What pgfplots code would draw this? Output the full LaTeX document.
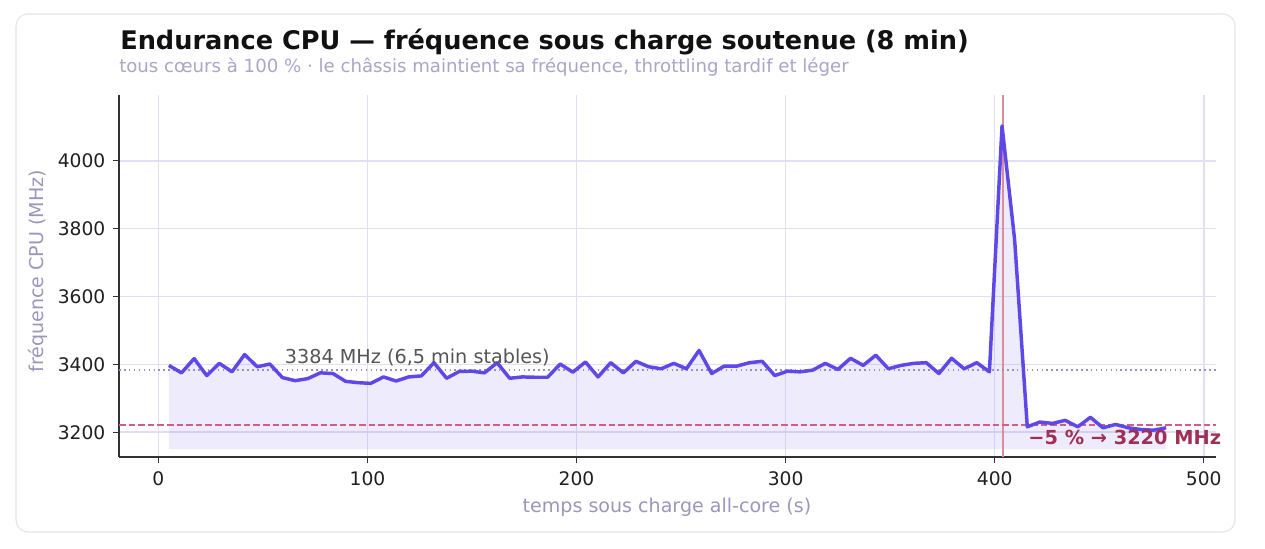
\documentclass[border=0pt]{standalone}
\usepackage{pgfplots}
\pgfplotsset{compat=1.18}
\usepackage{pgfplotstable}
\usepackage{fontspec}
\setmainfont{DejaVu Sans}
\definecolor{linec}{HTML}{5E48E8}
\definecolor{gridc}{HTML}{E2DEF5}
\definecolor{dotc}{HTML}{9890BE}
\definecolor{dashc}{HTML}{D45C88}
\definecolor{vlinec}{HTML}{DA8E9A}
\definecolor{titlec}{HTML}{111111}
\definecolor{subc}{HTML}{ABA5C8}
\definecolor{labc}{HTML}{9C96BC}
\definecolor{annc}{HTML}{555555}
\definecolor{boldc}{HTML}{9E2F55}
\definecolor{cardc}{HTML}{E4E4E4}
\pgfplotstableread{
t f
5 3397
11.04 3375
17.08 3417
23.11 3367
29.15 3403
35.19 3378
41.23 3429
47.27 3393
53.30 3401
59.34 3361
65.38 3352
71.42 3358
77.46 3375
83.49 3373
89.53 3350
95.57 3346
101.61 3344
107.65 3363
113.68 3351
119.72 3363
125.76 3366
131.80 3405
137.84 3359
143.87 3379
149.91 3380
155.95 3375
161.99 3405
168.03 3359
174.06 3363
180.10 3362
186.14 3362
192.18 3401
198.22 3377
204.25 3407
210.29 3363
216.33 3405
222.37 3375
228.41 3409
234.44 3393
240.48 3387
246.52 3403
252.56 3387
258.59 3441
264.63 3373
270.67 3395
276.71 3395
282.75 3405
288.78 3409
294.82 3367
300.86 3380
306.90 3378
312.94 3383
318.97 3403
325.01 3385
331.05 3418
337.09 3397
343.13 3427
349.16 3387
355.20 3397
361.24 3403
367.28 3405
373.32 3373
379.35 3418
385.39 3387
391.43 3405
397.47 3378
403.51 4103
409.54 3767
415.58 3216
421.62 3230
427.66 3226
433.70 3235
439.73 3216
445.77 3244
451.81 3213
457.85 3223
463.89 3213
469.92 3208
475.96 3206
482.00 3213
}\freqtable
\pgfplotstableread{
t f
5 3397
11.04 3375
17.08 3417
23.11 3367
29.15 3403
35.19 3378
41.23 3429
47.27 3393
53.30 3401
59.34 3361
65.38 3352
71.42 3358
77.46 3375
83.49 3373
89.53 3350
95.57 3346
101.61 3344
107.65 3363
113.68 3351
119.72 3363
125.76 3366
131.80 3405
137.84 3359
143.87 3379
149.91 3380
155.95 3375
161.99 3405
168.03 3359
174.06 3363
180.10 3362
186.14 3362
192.18 3401
198.22 3377
204.25 3407
210.29 3363
216.33 3405
222.37 3375
228.41 3409
234.44 3393
240.48 3387
246.52 3403
252.56 3387
258.59 3441
264.63 3373
270.67 3395
276.71 3395
282.75 3405
288.78 3409
294.82 3367
300.86 3380
306.90 3378
312.94 3383
318.97 3403
325.01 3385
331.05 3418
337.09 3397
343.13 3427
349.16 3387
355.20 3397
361.24 3403
367.28 3405
373.32 3373
379.35 3418
385.39 3387
391.43 3405
397.47 3378
403.51 4103
409.54 3767
415.58 3216
421.62 3230
427.66 3226
433.70 3235
439.73 3216
445.77 3244
451.81 3213
457.85 3223
463.89 3213
469.92 3208
475.96 3206
482.00 3213
482.00 3150
5 3150
}\filltable
\pgfplotstableread{
t f
-18.85 3220
505.85 3220
}\dashtable
\begin{document}
\begin{tikzpicture}
\fill[white] (0,0) rectangle (948.75pt,411.75pt);
\draw[cardc, line width=0.8pt, rounded corners=9pt] (12pt,12.75pt) rectangle (926.25pt,401.25pt);
\node[anchor=base west, inner sep=0, text=titlec, font=\fontsize{19.2}{22}\selectfont\bfseries] at (90pt,374.8pt) {Endurance CPU — fréquence sous charge soutenue (8 min)};
\node[anchor=base west, inner sep=0, text=subc, font=\fontsize{13.6}{15}\selectfont] at (89.25pt,357pt) {tous cœurs à 100 \% · le châssis maintient sa fréquence, throttling tardif et léger};
\begin{axis}[
  at={(89.25pt,69pt)}, anchor=south west,
  scale only axis, width=822.75pt, height=271.5pt,
  xmin=-18.85, xmax=505.85, ymin=3127, ymax=4194,
  axis x line*=bottom, axis y line*=left,
  axis line style={-, draw=black!80, line width=1.1pt},
  tick align=outside,
  major tick length=4.5pt,
  tick style={draw=black!80, line width=0.9pt},
  xtick={0,100,200,300,400,500},
  ytick={3200,3400,3600,3800,4000},
  xmajorgrids, ymajorgrids,
  major grid style={draw=gridc, line width=1.1pt},
  ticklabel style={font=\fontsize{14}{16}\selectfont, text=black!88},
  xticklabel style={yshift=-3pt},
  yticklabel style={xshift=-2.2pt},
  /pgf/number format/assume math mode=true,
  /pgf/number format/1000 sep={},
  xlabel={temps sous charge all-core (s)},
  ylabel={fréquence CPU (MHz)},
  xlabel style={at={(axis description cs:0.4995,-0.138)}, anchor=center, font=\fontsize{14.3}{16}\selectfont, text=labc},
  ylabel style={at={(axis description cs:-0.074,0.513)}, anchor=center, font=\fontsize{14.3}{16}\selectfont, text=labc},
  clip=false,
]
\addplot[fill=linec, fill opacity=0.1, draw=none, forget plot] table[x=t, y=f] {\filltable} -- cycle;
\addplot[draw=vlinec, line width=0.9pt, forget plot] coordinates {(404,3127) (404,4194)};
\addplot[draw=dotc, line width=1.1pt, dash pattern=on 1.2pt off 2.5pt, forget plot] coordinates {(-18.85,3384) (505.85,3384)};
\addplot[draw=dashc, solid, line width=1.5pt, dash pattern=on 5pt off 2.2pt, forget plot] table[x=t, y=f] {\dashtable};
\addplot[draw=linec, line width=2.6pt, line join=round, forget plot] table[x=t, y=f] {\freqtable};
\node[anchor=base west, inner sep=0, text=annc, font=\fontsize{14.4}{16}\selectfont] at (axis cs:60.4,3402) {3384 MHz (6,5 min stables)};
\node[anchor=base west, inner sep=0, text=boldc, font=\fontsize{14.5}{16}\selectfont\bfseries] at (axis cs:416,3164) {−5 \% → 3220 MHz};
\end{axis}
\end{tikzpicture}
\end{document}
